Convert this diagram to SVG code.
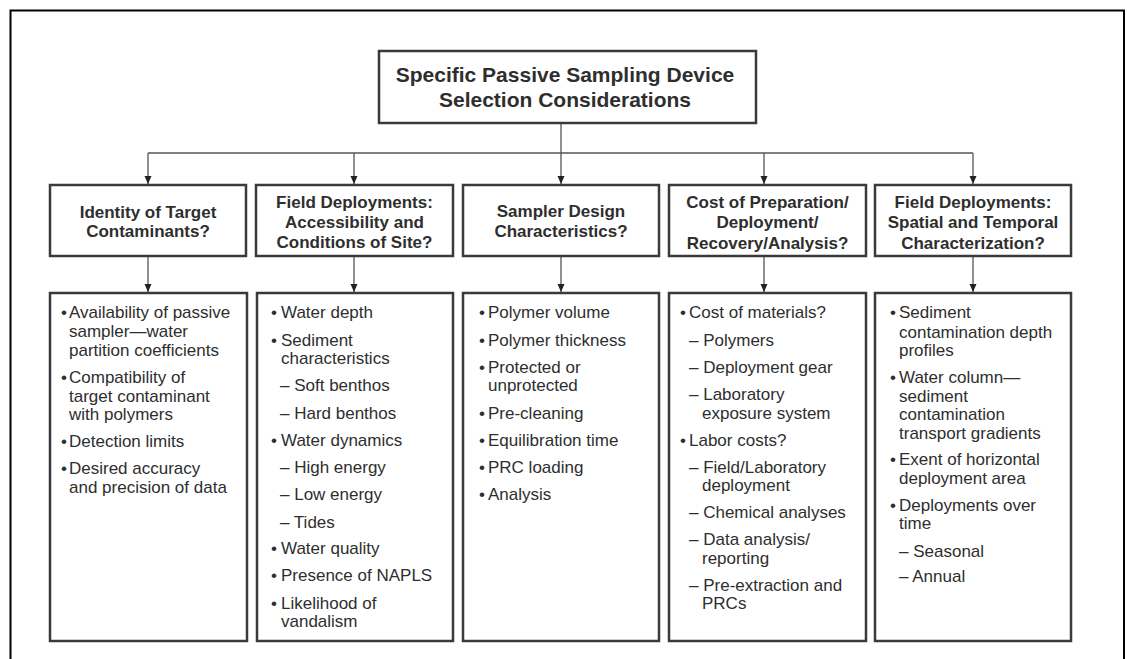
<svg xmlns="http://www.w3.org/2000/svg" width="1127" height="659" viewBox="0 0 1127 659">
<defs>
<style>
.box{fill:#fff;stroke:#3a3a3a;stroke-width:2.5}
.t{font-family:"Liberation Sans",Arial,sans-serif;font-size:17px;fill:#2e2e2e}
.h{font-family:"Liberation Sans",Arial,sans-serif;font-size:17px;font-weight:bold;fill:#2e2e2e;text-anchor:middle}
.ti{font-family:"Liberation Sans",Arial,sans-serif;font-size:21px;font-weight:bold;fill:#2e2e2e;text-anchor:middle}
.c{fill:none;stroke:#555;stroke-width:1.3}
</style>
<marker id="ah" viewBox="0 0 8 8" refX="8" refY="4" markerWidth="8" markerHeight="8" markerUnits="userSpaceOnUse" orient="auto">
<path d="M0,0.5 L8,4 L0,7.5 Z" fill="#222"/>
</marker>
</defs>
<rect width="1127" height="659" fill="#fff"/>
<path d="M10.5,670 V10.5 H1124 V670" fill="none" stroke="#000" stroke-width="2"/>

<g id="connectors">
<path class="c" d="M561,123 V153"/>
<path class="c" d="M148,153 H973"/>
<path class="c" d="M148,153 V184" marker-end="url(#ah)"/>
<path class="c" d="M354,153 V184" marker-end="url(#ah)"/>
<path class="c" d="M561,153 V184" marker-end="url(#ah)"/>
<path class="c" d="M764,153 V184" marker-end="url(#ah)"/>
<path class="c" d="M973,153 V184" marker-end="url(#ah)"/>
<path class="c" d="M148,256 V292" marker-end="url(#ah)"/>
<path class="c" d="M354,256 V292" marker-end="url(#ah)"/>
<path class="c" d="M561,256 V292" marker-end="url(#ah)"/>
<path class="c" d="M764,256 V292" marker-end="url(#ah)"/>
<path class="c" d="M973,256 V292" marker-end="url(#ah)"/>
</g>

<g id="title">
<rect class="box" x="379" y="51" width="377" height="72"/>
<text class="ti" x="565" y="82">Specific Passive Sampling Device</text>
<text class="ti" x="565" y="107">Selection Considerations</text>
</g>

<g id="h1">
<rect class="box" x="50" y="185" width="196" height="71"/>
<text class="h" x="148" y="218">Identity of Target</text>
<text class="h" x="148" y="237">Contaminants?</text>
</g>
<g id="h2">
<rect class="box" x="256" y="185" width="197" height="71"/>
<text class="h" x="354.5" y="208">Field Deployments:</text>
<text class="h" x="354.5" y="228">Accessibility and</text>
<text class="h" x="354.5" y="248">Conditions of Site?</text>
</g>
<g id="h3">
<rect class="box" x="463" y="185" width="196" height="71"/>
<text class="h" x="561" y="217">Sampler Design</text>
<text class="h" x="561" y="237">Characteristics?</text>
</g>
<g id="h4">
<rect class="box" x="669" y="185" width="197" height="71"/>
<text class="h" x="767.5" y="208">Cost of Preparation/</text>
<text class="h" x="767.5" y="228">Deployment/</text>
<text class="h" x="767.5" y="249">Recovery/Analysis?</text>
</g>
<g id="h5">
<rect class="box" x="875" y="185" width="196" height="71"/>
<text class="h" x="973" y="208">Field Deployments:</text>
<text class="h" x="973" y="228">Spatial and Temporal</text>
<text class="h" x="973" y="249">Characterization?</text>
</g>

<g id="c1">
<rect class="box" x="50" y="293" width="197" height="348"/>
<text class="t" x="61" y="318">•</text>
<text class="t" x="69" y="318">Availability of passive</text>
<text class="t" x="69" y="337">sampler—water</text>
<text class="t" x="69" y="356">partition coefficients</text>
<text class="t" x="61" y="383">•</text>
<text class="t" x="69" y="383">Compatibility of</text>
<text class="t" x="69" y="402">target contaminant</text>
<text class="t" x="69" y="420">with polymers</text>
<text class="t" x="61" y="447">•</text>
<text class="t" x="69" y="447">Detection limits</text>
<text class="t" x="61" y="474">•</text>
<text class="t" x="69" y="474">Desired accuracy</text>
<text class="t" x="69" y="493">and precision of data</text>
</g>

<g id="c2">
<rect class="box" x="257" y="293" width="196" height="348"/>
<text class="t" x="271" y="318">•</text>
<text class="t" x="281" y="318">Water depth</text>
<text class="t" x="271" y="346">•</text>
<text class="t" x="281" y="346">Sediment</text>
<text class="t" x="281" y="364">characteristics</text>
<text class="t" x="280" y="391">– Soft benthos</text>
<text class="t" x="280" y="419">– Hard benthos</text>
<text class="t" x="271" y="446">•</text>
<text class="t" x="281" y="446">Water dynamics</text>
<text class="t" x="280" y="473">– High energy</text>
<text class="t" x="280" y="500">– Low energy</text>
<text class="t" x="280" y="528">– Tides</text>
<text class="t" x="271" y="554">•</text>
<text class="t" x="281" y="554">Water quality</text>
<text class="t" x="271" y="581">•</text>
<text class="t" x="281" y="581">Presence of NAPLS</text>
<text class="t" x="271" y="609">•</text>
<text class="t" x="281" y="609">Likelihood of</text>
<text class="t" x="281" y="627">vandalism</text>
</g>

<g id="c3">
<rect class="box" x="463" y="293" width="196" height="348"/>
<text class="t" x="479" y="318">•</text>
<text class="t" x="488" y="318">Polymer volume</text>
<text class="t" x="479" y="346">•</text>
<text class="t" x="488" y="346">Polymer thickness</text>
<text class="t" x="479" y="373">•</text>
<text class="t" x="488" y="373">Protected or</text>
<text class="t" x="488" y="391">unprotected</text>
<text class="t" x="479" y="419">•</text>
<text class="t" x="488" y="419">Pre-cleaning</text>
<text class="t" x="479" y="446">•</text>
<text class="t" x="488" y="446">Equilibration time</text>
<text class="t" x="479" y="473">•</text>
<text class="t" x="488" y="473">PRC loading</text>
<text class="t" x="479" y="500">•</text>
<text class="t" x="488" y="500">Analysis</text>
</g>

<g id="c4">
<rect class="box" x="669" y="293" width="197" height="348"/>
<text class="t" x="680" y="318">•</text>
<text class="t" x="689" y="318">Cost of materials?</text>
<text class="t" x="689" y="346">– Polymers</text>
<text class="t" x="689" y="373">– Deployment gear</text>
<text class="t" x="689" y="400">– Laboratory</text>
<text class="t" x="702" y="419">exposure system</text>
<text class="t" x="680" y="446">•</text>
<text class="t" x="689" y="446">Labor costs?</text>
<text class="t" x="689" y="473">– Field/Laboratory</text>
<text class="t" x="702" y="491">deployment</text>
<text class="t" x="689" y="518">– Chemical analyses</text>
<text class="t" x="689" y="545">– Data analysis/</text>
<text class="t" x="702" y="564">reporting</text>
<text class="t" x="689" y="591">– Pre-extraction and</text>
<text class="t" x="702" y="609">PRCs</text>
</g>

<g id="c5">
<rect class="box" x="875" y="293" width="196" height="348"/>
<text class="t" x="890" y="318">•</text>
<text class="t" x="899" y="318">Sediment</text>
<text class="t" x="899" y="338">contamination depth</text>
<text class="t" x="899" y="356">profiles</text>
<text class="t" x="890" y="383">•</text>
<text class="t" x="899" y="383">Water column—</text>
<text class="t" x="899" y="402">sediment</text>
<text class="t" x="899" y="420">contamination</text>
<text class="t" x="899" y="439">transport gradients</text>
<text class="t" x="890" y="465">•</text>
<text class="t" x="899" y="465">Exent of horizontal</text>
<text class="t" x="899" y="484">deployment area</text>
<text class="t" x="890" y="511">•</text>
<text class="t" x="899" y="511">Deployments over</text>
<text class="t" x="899" y="529">time</text>
<text class="t" x="899" y="557">– Seasonal</text>
<text class="t" x="899" y="582">– Annual</text>
</g>
</svg>
